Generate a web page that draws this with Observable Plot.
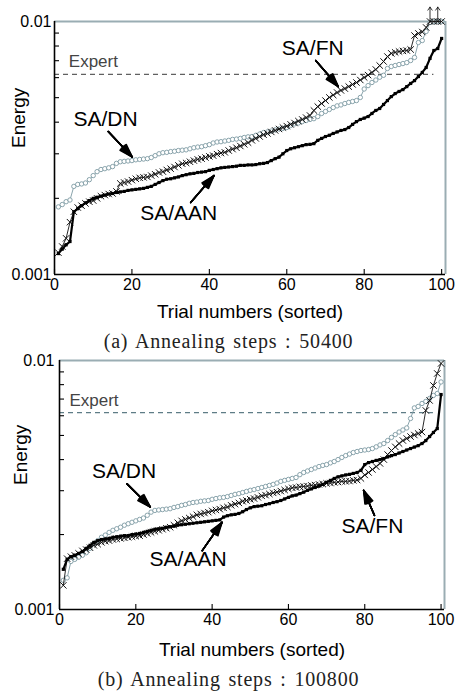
<!DOCTYPE html>
<html><head><meta charset="utf-8">
<script src="https://cdn.jsdelivr.net/npm/d3@7"></script>
<script src="https://cdn.jsdelivr.net/npm/@observablehq/plot@0.6"></script>
<style>
body{margin:0;background:#fff;}
#wrap{position:relative;width:457px;height:695px;overflow:hidden;background:#fff;}
.panel{position:absolute;left:0;}
.cap{position:absolute;left:0;width:457px;text-align:center;font-family:"Liberation Serif","Times New Roman",serif;font-size:20px;letter-spacing:0.8px;word-spacing:2px;color:#222;line-height:20px;white-space:pre;z-index:5;}
</style></head><body>
<div id="wrap"></div>
<script>
// ---------- data ----------
const trials = Array.from({length: 100}, (_, i) => i + 1);
const xTicks = [0, 20, 40, 60, 80, 100];
const yLabelTicks = [0.001, 0.01];
const yLabelText = ["0.001", "0.01"];
const yMinorTicks = [0.002, 0.003, 0.004, 0.005, 0.006, 0.007, 0.008, 0.009];
const expertEnergy = 0.00618;
const expertEnd = 98;
const captions = ["(a) Annealing steps : 50400", "(b) Annealing steps : 100800"];
const seriesNames = ["SA/DN", "SA/FN", "SA/AAN"];

// Panel (a): 50400 annealing steps
const aDN = [0.00185,0.00189,0.00194,0.00197,0.00223,0.00227,0.00228,0.00230,0.00237,0.00246,
  0.00255,0.00260,0.00262,0.00264,0.00267,0.00275,0.00279,0.00280,0.00281,0.00282,
  0.00284,0.00285,0.00286,0.00287,0.00290,0.00295,0.00300,0.00303,0.00304,0.00306,
  0.00307,0.00309,0.00310,0.00311,0.00314,0.00317,0.00319,0.00320,0.00323,0.00326,
  0.00331,0.00334,0.00335,0.00337,0.00339,0.00342,0.00343,0.00345,0.00348,0.00350,
  0.00351,0.00355,0.00359,0.00364,0.00366,0.00369,0.00373,0.00376,0.00378,0.00381,
  0.00388,0.00394,0.00397,0.00402,0.00406,0.00410,0.00413,0.00421,0.00433,0.00441,
  0.00449,0.00457,0.00464,0.00468,0.00474,0.00479,0.00483,0.00487,0.00501,0.00541,
  0.00558,0.00574,0.00587,0.00602,0.00613,0.00652,0.00664,0.00670,0.00676,0.00682,
  0.00688,0.00701,0.00721,0.00826,0.00841,0.00913,0.00991,0.01,0.01,0.01];
const aFN = [0.00122,0.00129,0.00139,0.00161,0.00177,0.00184,0.00187,0.00191,0.00194,0.00196,
  0.00200,0.00204,0.00206,0.00208,0.00209,0.00213,0.00229,0.00231,0.00233,0.00236,
  0.00239,0.00241,0.00242,0.00243,0.00246,0.00249,0.00253,0.00255,0.00259,0.00262,
  0.00266,0.00270,0.00274,0.00276,0.00279,0.00282,0.00285,0.00287,0.00290,0.00293,
  0.00295,0.00299,0.00302,0.00304,0.00309,0.00313,0.00317,0.00322,0.00327,0.00332,
  0.00339,0.00345,0.00351,0.00357,0.00361,0.00366,0.00371,0.00376,0.00381,0.00386,
  0.00392,0.00397,0.00404,0.00410,0.00417,0.00425,0.00445,0.00461,0.00474,0.00487,
  0.00501,0.00512,0.00524,0.00534,0.00543,0.00553,0.00564,0.00574,0.00587,0.00601,
  0.00614,0.00629,0.00646,0.00670,0.00695,0.00727,0.00748,0.00755,0.00761,0.00765,
  0.00768,0.00775,0.00880,0.00897,0.00909,0.00947,0.01,0.01,0.01,0.01];
const aAAN = [0.00121,0.00126,0.00131,0.00135,0.00177,0.00182,0.00187,0.00192,0.00196,0.00200,
  0.00202,0.00204,0.00206,0.00208,0.00209,0.00211,0.00212,0.00213,0.00215,0.00216,
  0.00217,0.00218,0.00219,0.00221,0.00223,0.00227,0.00231,0.00235,0.00238,0.00239,
  0.00241,0.00243,0.00246,0.00248,0.00250,0.00251,0.00253,0.00254,0.00255,0.00258,
  0.00260,0.00262,0.00264,0.00265,0.00266,0.00267,0.00268,0.00270,0.00270,0.00271,
  0.00271,0.00272,0.00274,0.00275,0.00277,0.00282,0.00287,0.00291,0.00300,0.00309,
  0.00314,0.00317,0.00320,0.00323,0.00326,0.00327,0.00329,0.00339,0.00345,0.00351,
  0.00355,0.00361,0.00366,0.00371,0.00374,0.00381,0.00392,0.00402,0.00410,0.00415,
  0.00421,0.00433,0.00445,0.00453,0.00470,0.00487,0.00505,0.00519,0.00529,0.00538,
  0.00553,0.00569,0.00584,0.00606,0.00629,0.00658,0.00715,0.00768,0.00782,0.00857];
const aOffScaleTrials = [97, 99];

// Panel (b): 100800 annealing steps
const bDN = [0.00131,0.00134,0.00156,0.00159,0.00162,0.00165,0.00169,0.00176,0.00184,0.00189,
  0.00195,0.00199,0.00204,0.00208,0.00211,0.00214,0.00218,0.00221,0.00224,0.00227,
  0.00230,0.00233,0.00239,0.00246,0.00250,0.00251,0.00252,0.00253,0.00254,0.00257,
  0.00259,0.00262,0.00264,0.00267,0.00269,0.00270,0.00272,0.00273,0.00274,0.00277,
  0.00279,0.00281,0.00282,0.00284,0.00287,0.00290,0.00292,0.00295,0.00298,0.00301,
  0.00303,0.00306,0.00309,0.00312,0.00315,0.00318,0.00322,0.00327,0.00330,0.00333,
  0.00336,0.00339,0.00348,0.00355,0.00360,0.00365,0.00370,0.00375,0.00379,0.00382,
  0.00388,0.00393,0.00400,0.00408,0.00415,0.00421,0.00427,0.00431,0.00435,0.00437,
  0.00439,0.00443,0.00450,0.00458,0.00464,0.00477,0.00491,0.00504,0.00516,0.00526,
  0.00536,0.00585,0.00645,0.00654,0.00672,0.00685,0.00704,0.00724,0.00737,0.00820];
const bFN = [0.00125,0.00160,0.00163,0.00165,0.00168,0.00172,0.00174,0.00177,0.00181,0.00183,
  0.00186,0.00188,0.00189,0.00191,0.00192,0.00193,0.00194,0.00195,0.00196,0.00197,
  0.00198,0.00200,0.00202,0.00204,0.00206,0.00208,0.00210,0.00212,0.00214,0.00218,
  0.00223,0.00227,0.00230,0.00233,0.00236,0.00240,0.00242,0.00244,0.00246,0.00249,
  0.00251,0.00253,0.00256,0.00258,0.00262,0.00265,0.00268,0.00272,0.00274,0.00277,
  0.00279,0.00282,0.00286,0.00288,0.00291,0.00294,0.00296,0.00299,0.00302,0.00305,
  0.00308,0.00309,0.00311,0.00312,0.00313,0.00315,0.00316,0.00318,0.00319,0.00321,
  0.00322,0.00324,0.00325,0.00327,0.00327,0.00328,0.00330,0.00331,0.00336,0.00347,
  0.00355,0.00365,0.00375,0.00386,0.00400,0.00419,0.00435,0.00450,0.00464,0.00477,
  0.00486,0.00495,0.00502,0.00509,0.00516,0.00630,0.00691,0.00794,0.00887,0.00973];
const bAAN = [0.00145,0.00159,0.00163,0.00165,0.00168,0.00171,0.00176,0.00181,0.00186,0.00189,
  0.00191,0.00192,0.00193,0.00195,0.00196,0.00197,0.00198,0.00198,0.00200,0.00201,
  0.00202,0.00204,0.00206,0.00208,0.00210,0.00211,0.00212,0.00214,0.00215,0.00216,
  0.00218,0.00219,0.00220,0.00221,0.00222,0.00223,0.00224,0.00225,0.00226,0.00227,
  0.00228,0.00229,0.00235,0.00238,0.00240,0.00241,0.00243,0.00247,0.00252,0.00256,
  0.00259,0.00260,0.00261,0.00264,0.00266,0.00269,0.00271,0.00274,0.00278,0.00282,
  0.00286,0.00288,0.00292,0.00296,0.00301,0.00305,0.00309,0.00313,0.00318,0.00324,
  0.00330,0.00336,0.00341,0.00344,0.00347,0.00349,0.00352,0.00355,0.00362,0.00382,
  0.00389,0.00393,0.00397,0.00400,0.00404,0.00410,0.00415,0.00419,0.00425,0.00431,
  0.00437,0.00443,0.00449,0.00455,0.00464,0.00477,0.00495,0.00514,0.00533,0.00730];

// annotation anchors (trial, energy); arrow starts lie behind the visible start (hidden by insetStart)
const aLabelTrials = [13.2, 66.7, 32.1];
const aLabelEnergy = [0.0041, 0.00782, 0.00175];
const aArrowFrom = [[11.4, 0.00403], [65.1, 0.00772], [32.8, 0.00175]];
const aArrowTo = [[20.1, 0.00291], [73.3, 0.00553], [41.2, 0.00246]];
const aExpertAt = [3.7, 0.00695];

const bLabelTrials = [16.9, 82, 33.7];
const bLabelEnergy = [0.0036, 0.00215, 0.00159];
const bArrowFrom = [[15.1, 0.0035], [84.0, 0.00212], [35.3, 0.00155]];
const bArrowTo = [[23.8, 0.00258], [79.7, 0.00301], [42.6, 0.00224]];
const bExpertAt = [2.6, 0.00691];

// ---------- drawing ----------
const dnColor = "#7d9aa3";
const rows = (vals) => vals.map((energy, i) => ({trial: trials[i], energy}));

function panel(cfg) {
  const W = 457;
  const plotH = cfg.H - cfg.mt - cfg.mb;
  const plotW = W - cfg.ml - cfg.mr;
  const dn = rows(cfg.dn), fn = rows(cfg.fn), aan = rows(cfg.aan);
  const labels = seriesNames.map((text, i) => ({text, trial: cfg.labelTrials[i], energy: cfg.labelEnergy[i]}));
  const arrows = cfg.from.map((f, i) => ({t1: f[0], e1: f[1], t2: cfg.to[i][0], e2: cfg.to[i][1]}));
  const marks = [
    Plot.ruleY([expertEnergy], {x1: 0, x2: expertEnd, stroke: cfg.expertColor, strokeWidth: 1.3, strokeDasharray: "5,4"}),
    Plot.text(["Expert"], {x: cfg.expertAt[0], y: cfg.expertAt[1], textAnchor: "start", fontSize: 17, fill: "#444"}),
    Plot.ruleY([0.01], {stroke: "#9aadb3", strokeWidth: 2}),
    Plot.ruleX([cfg.xMax], {stroke: "#9aadb3", strokeWidth: 2}),
    Plot.line(dn, {x: "trial", y: "energy", stroke: dnColor, strokeWidth: 0.9}),
    Plot.dot(dn, {x: "trial", y: "energy", r: 2.2, stroke: dnColor, fill: "white", strokeWidth: 0.9}),
    Plot.line(fn, {x: "trial", y: "energy", stroke: "#111", strokeWidth: 0.9}),
    Plot.dot(fn, {x: "trial", y: "energy", symbol: "times", r: 3, stroke: "#111", fill: "none", strokeWidth: 1}),
    Plot.line(aan, {x: "trial", y: "energy", stroke: "#000", strokeWidth: 2.2}),
    Plot.dot(aan, {x: "trial", y: "energy", symbol: "square", r: 1.8, fill: "#000", stroke: "none"}),
    Plot.ruleX([0], {stroke: "#000", strokeWidth: 1.6}),
    Plot.ruleY([0.001], {stroke: "#000", strokeWidth: 1.6}),
    Plot.ruleX(xTicks, {insetTop: plotH - 5, stroke: "#000", strokeWidth: 1.1}),
    Plot.ruleY(yMinorTicks, {insetRight: plotW - 5, stroke: "#000", strokeWidth: 1.1}),
    Plot.axisX({ticks: xTicks, tickSize: 0, tickPadding: 4, fontSize: 16, label: null}),
    Plot.axisY({ticks: yLabelTicks, tickFormat: d => yLabelText[yLabelTicks.indexOf(d)], tickSize: 0, tickPadding: cfg.tickPad, fontSize: 16, label: null}),
    Plot.text(["Trial numbers (sorted)"], {frameAnchor: "bottom", dy: cfg.xTitleDy, lineAnchor: "bottom", fontSize: 19}),
    Plot.text(["Energy"], {frameAnchor: "left", dx: cfg.yTitleDx, rotate: -90, fontSize: 19}),
    Plot.text(labels, {x: "trial", y: "energy", text: "text", fontSize: 21, fill: "#000"}),
    ...[36, 29, 22, 15, 8, 2].map(a => Plot.arrow(arrows, {x1: "t1", y1: "e1", x2: "t2", y2: "e2", headAngle: a, headLength: 14, insetStart: 14, strokeWidth: 1.5, stroke: "#000"}))
  ];
  if (cfg.over) {
    marks.push(Plot.arrow(cfg.over, {x1: d => d, x2: d => d, y1: () => 0.01, y2: () => 0.0114, headLength: 7, headAngle: 70, strokeWidth: 0.8, stroke: "#000"}));
  }
  return Plot.plot({
    width: W, height: cfg.H,
    marginTop: cfg.mt, marginBottom: cfg.mb, marginLeft: cfg.ml, marginRight: cfg.mr,
    x: {domain: [0, cfg.xMax]},
    y: {type: "log", domain: [0.001, 0.01]},
    style: {fontFamily: "'Liberation Sans', Arial, sans-serif", background: "transparent", color: "#000", overflow: "visible"},
    marks
  });
}

const wrap = document.getElementById("wrap");
const svgA = panel({dn: aDN, fn: aFN, aan: aAAN, H: 340, mt: 21, mb: 66, ml: 54, mr: 12, xMax: 101,
  labelTrials: aLabelTrials, labelEnergy: aLabelEnergy, from: aArrowFrom, to: aArrowTo, expertAt: aExpertAt,
  expertColor: "#606060", tickPad: 3, xTitleDy: 43, yTitleDx: -36, over: aOffScaleTrials});
svgA.classList.add("panel"); svgA.style.top = "0px";
wrap.appendChild(svgA);
const svgB = panel({dn: bDN, fn: bFN, aan: bAAN, H: 343, mt: 8, mb: 86, ml: 59, mr: 13, xMax: 100.9,
  labelTrials: bLabelTrials, labelEnergy: bLabelEnergy, from: bArrowFrom, to: bArrowTo, expertAt: bExpertAt,
  expertColor: "#5e7c86", tickPad: 5, xTitleDy: 46, yTitleDx: -39, over: null});
svgB.classList.add("panel"); svgB.style.top = "352px";
wrap.appendChild(svgB);

[[captions[0], 331], [captions[1], 669]].forEach(([t, top]) => {
  const d = document.createElement("div");
  d.className = "cap"; d.style.top = top + "px"; d.textContent = t;
  wrap.appendChild(d);
});
</script>
</body></html>
